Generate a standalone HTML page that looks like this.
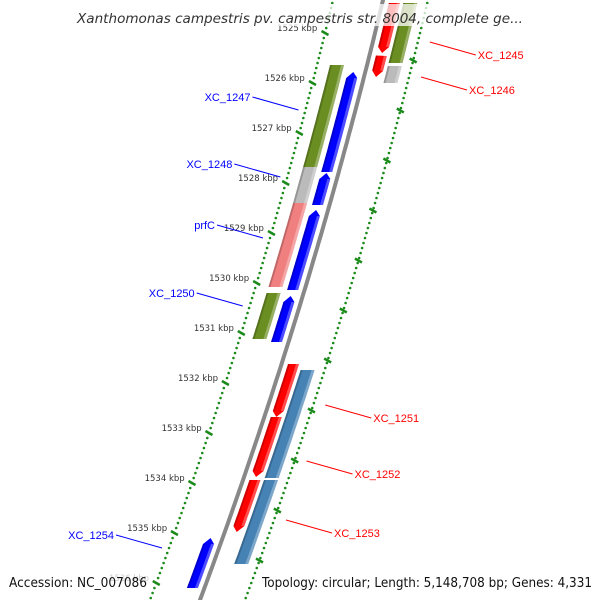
<!DOCTYPE html>
<html><head><meta charset="utf-8"><style>
html,body{margin:0;padding:0;background:#fff;overflow:hidden}
svg{display:block;font-family:"DejaVu Sans","Liberation Sans",sans-serif}
</style></head><body>
<svg id="map" width="600" height="600" viewBox="0 0 600 600">
<g id="rings"></g>
<path id="backbone" fill="none" stroke="#888" stroke-width="4"></path>
<g id="feats"></g>
<g id="labels"></g>
<rect x="0" y="4" width="600" height="22" fill="#fff" opacity="0.75"/>
<text x="300" y="23" text-anchor="middle" font-size="13.5" font-style="italic" fill="#333" textLength="446" lengthAdjust="spacingAndGlyphs">Xanthomonas campestris pv. campestris str. 8004, complete ge...</text>
<rect x="5" y="571" width="146" height="20" fill="#fff" opacity="0.75"/>
<text x="9" y="587" font-size="13" fill="#111" textLength="138" lengthAdjust="spacingAndGlyphs">Accession: NC_007086</text>
<rect x="258" y="571" width="340" height="20" fill="#fff" opacity="0.75"/>
<text x="262" y="587" font-size="13" fill="#111" textLength="330" lengthAdjust="spacingAndGlyphs">Topology: circular; Length: 5,148,708 bp; Genes: 4,331</text>
</svg>
<script>
const tickKbp=[1525,1526,1527,1528,1529,1530,1531,1532,1533,1534,1535,1536];
const featStart=[1525.88,1527.9,1528.64,1530.36,1535.2, 1525.74,1527.78,1528.5,1530.3, 1524.5,1525.55, 1531.72,1532.78,1534.04, 1524.5,1525.76, 1531.84,1534.04];
const featEnd  =[1527.88,1528.54,1530.24,1531.28,1536.2, 1527.8,1528.5,1530.18,1531.22, 1525.5,1525.98, 1532.78,1533.98,1535.08, 1525.7,1526.1, 1534.0,1535.72];
const featTrack=[-1,-1,-1,-1,-1, -2,-2,-2,-2, 1,1, 1,1,1, 2,2, 2,2];
const featColor=["#0000ff","#0000ff","#0000ff","#0000ff","#0000ff","#6b8e23","#bbbbbb","#f08080","#6b8e23","#ff0000","#ff0000","#ff0000","#ff0000","#ff0000","#6b8e23","#bbbbbb","#4682b4","#4682b4"];
const labelText=["XC_1247","XC_1248","prfC","XC_1250","XC_1254","XC_1245","XC_1246","XC_1251","XC_1252","XC_1253"];
const labelKbp=[1526.64,1527.98,1529.2,1530.56,1535.4,1525.28,1525.98,1532.54,1533.66,1534.84];
const labelSide=[-1,-1,-1,-1,-1,1,1,1,1,1];
const NS="http://www.w3.org/2000/svg";
const A=383,B=-0.2382,C=-1.114e-4;
function Y(k){return 28+(k-1525)*50;}
function pt(k,off){const y=Y(k);const x=A+B*y+C*y*y;return [x+off,y];}
function mk(tag,attrs,parent,name){const e=document.createElementNS(NS,tag);for(const a in attrs)e.setAttribute(a,attrs[a]);


parent.appendChild(e);return e;}
let bd="";for(let k=1524;k<=1537.2;k+=0.1){const p=pt(k,0);bd+=(bd?"L":"M")+p[0].toFixed(1)+","+p[1].toFixed(1);}
document.getElementById('backbone').setAttribute('d',bd);
const rings=document.getElementById('rings'),labels=document.getElementById('labels');
for(let i=0;i<=130;i++){const k=1524+i*0.1;
 for(const off of [-50,45]){const p=pt(k,off);mk('circle',{cx:p[0],cy:p[1],r:1.3,fill:"#1a8a1a"},rings,'minor-tick');}}
function dash(k,off,len){const a=pt(k,off-len/2),b=pt(k,off+len/2);a[1]-=2;b[1]+=2;return [a,b];}
tickKbp.forEach(k=>{const [a,b]=dash(k+0.1,-50,7);mk('line',{x1:a[0],y1:a[1],x2:b[0],y2:b[1],stroke:"#1a8a1a","stroke-width":2.5},rings,'major-tick');
 const p=pt(k,-59);mk('text',{x:p[0],y:p[1]+3,"font-size":8.5,fill:"#333","text-anchor":"end"},rings,'tick-label').textContent=k+" kbp";
 const [c,d]=dash(k+0.65,45,7);mk('line',{x1:c[0],y1:c[1],x2:d[0],y2:d[1],stroke:"#1a8a1a","stroke-width":2.5},rings,'outer-tick');});
const feats=document.getElementById('feats');
function poly(k1,k2,o1,o2,dir){
 const hk=0.12;let pts=[];let a=k1,b=k2;if(dir<0)a=k1+hk;if(dir>0)b=k2-hk;
 const st=Math.max(0.02,(b-a)/20);
 for(let k=a;k<=b+1e-6;k+=st)pts.push(pt(k,o1));
 if(dir>0)pts.push(pt(k2,(o1+o2)/2));
 for(let k=b;k>=a-1e-6;k-=st)pts.push(pt(k,o2));
 if(dir<0)pts.push(pt(k1,(o1+o2)/2));
 return pts.map(p=>p[0].toFixed(1)+","+p[1].toFixed(1)).join(" ");}
const trackOff={"-1":-12,"-2":-30,"1":12,"2":28};
featStart.forEach((s,i)=>{const e=featEnd[i],t=featTrack[i],off=trackOff[t],w=Math.abs(t)==1?11:14;
 const dir=t==-1?-1:(t==1?1:0);
 mk('polygon',{points:poly(s,e,off-w/2,off+w/2,dir),fill:featColor[i]},feats,'feature-'+i);
 mk('polygon',{points:poly(s+(dir<0?0.12:0),e-(dir>0?0.12:0),off+w/2-3,off+w/2,0),fill:"#fff",opacity:0.3},feats,'feature-highlight');
 mk('polygon',{points:poly(s+(dir<0?0.12:0),e-(dir>0?0.12:0),off-w/2,off-w/2+2,0),fill:"#000",opacity:0.2},feats,'feature-shadow');});
labelText.forEach((t,i)=>{const side=labelSide[i],k=labelKbp[i];const a=pt(k,side*57);
 const col=side<0?"#0000ff":"#ff0000";
 const bx=a[0]+side*46,by=a[1]+(side<0?-13:13);
 mk('line',{x1:a[0],y1:a[1],x2:bx,y2:by,stroke:col,"stroke-width":1},labels,'leader-line');
 mk('text',{x:bx+side*2,y:by+4,"font-size":11,fill:col,"font-family":"Liberation Sans, sans-serif","text-anchor":side<0?"end":"start"},labels,'label-'+t).textContent=t;});
</script>
</body></html>
